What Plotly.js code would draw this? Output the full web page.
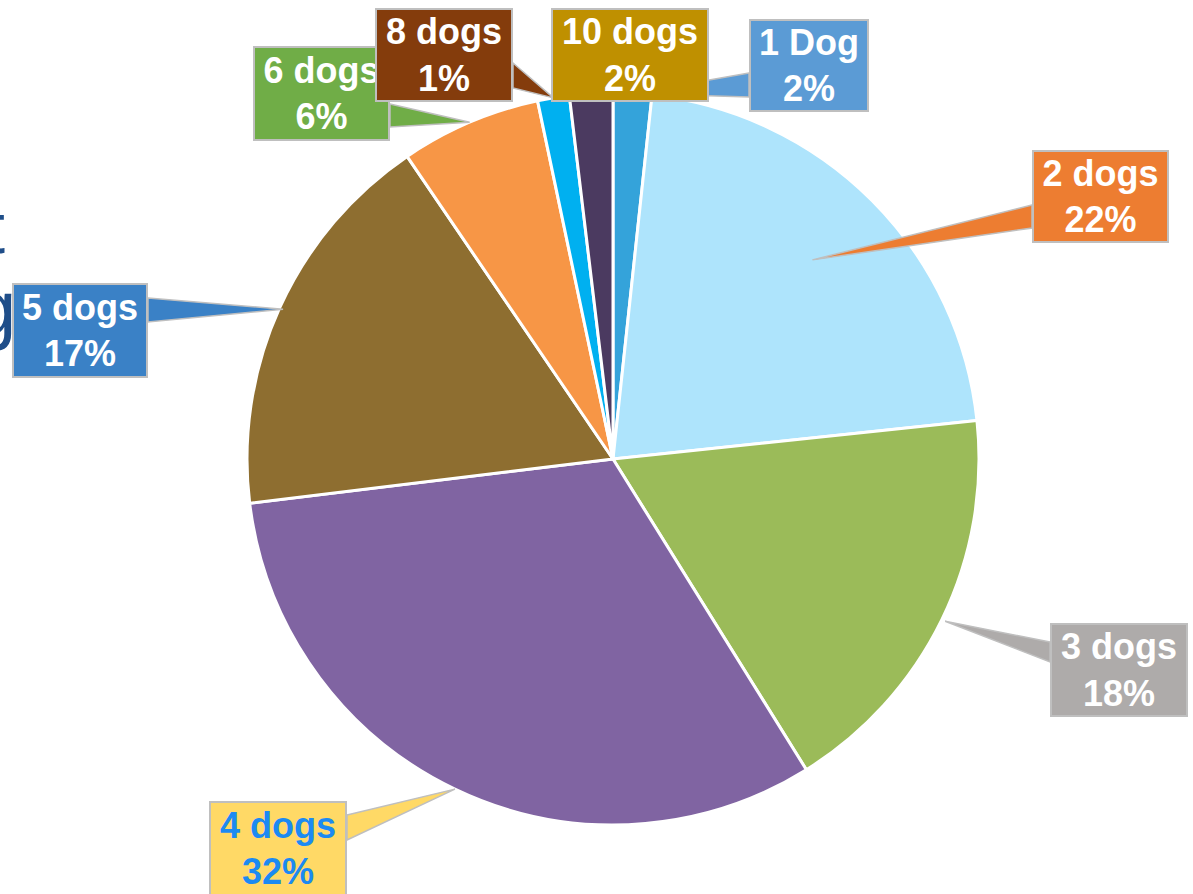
<!DOCTYPE html>
<html>
<head>
<meta charset="utf-8">
<script src="https://cdn.plot.ly/plotly-3.0.1.min.js"></script>
<style>
  html, body { margin: 0; padding: 0; background: #ffffff; }
  #chart { width: 1193px; height: 894px; }
</style>
</head>
<body>
<div id="chart"></div>
<script>
// ---- data ----
const labels = ['1 Dog', '2 dogs', '3 dogs', '4 dogs', '5 dogs', '6 dogs', '8 dogs', '10 dogs'];
const values = [1.7, 21.6, 17.8, 31.9, 17.4, 6.2, 1.4, 1.9];

// ---- styles ----
const sliceColors = ['#34A3DA', '#AEE4FC', '#9BBB59', '#8064A2', '#8E6E30', '#F79646', '#00B0F0', '#4B3A60'];
const boxColors   = ['#5B9BD5', '#ED7D31', '#AEABAA', '#FFD966', '#3A81C6', '#70AD47', '#843C0C', '#BF9000'];
const textColors  = ['#FFFFFF', '#FFFFFF', '#FFFFFF', '#1C8AF2', '#FFFFFF', '#FFFFFF', '#FFFFFF', '#FFFFFF'];

// ---- geometry (pixels) ----
const W = 1193, H = 894;
const cx = 613, cy = 459, R = 366;
// callout boxes [x0,y0,x1,y1], pointer base points, pointer tip radius (fraction of R)
const callouts = [
  { box: [749, 19, 869, 112],  base: [[749, 73], [749, 97]],   r: 1.0 },
  { box: [1032, 150, 1169, 243], base: [[1032, 205], [1032, 228]], r: 0.77 },
  { box: [1050, 623, 1188, 717], base: [[1050, 642], [1050, 662]], r: 1.01 },
  { box: [209, 801, 347, 896], base: [[347, 815], [347, 840]], r: 1.0 },
  { box: [12, 283, 148, 378],  base: [[148, 298], [148, 322]], r: 0.99 },
  { box: [253, 46, 390, 141],  base: [[390, 104], [390, 127]], r: 1.0 },
  { box: [375, 8, 513, 102],   base: [[513, 63], [513, 88]],   r: 1.0 },
  { box: [551, 8, 709, 102],   base: null, r: 1.0 }
];

const px = x => x / W;
const py = y => 1 - y / H;

const total = values.reduce((a, b) => a + b, 0);
let cum = 0;
const shapes = [];
const annotations = [];

callouts.forEach((c, i) => {
  const mid = (cum + values[i] / 2) / total * 2 * Math.PI;
  cum += values[i];
  const tx = cx + c.r * R * Math.sin(mid);
  const ty = cy - c.r * R * Math.cos(mid);
  if (c.base) {
    const [b1, b2] = c.base;
    shapes.push({
      type: 'path', xref: 'paper', yref: 'paper', layer: 'above',
      path: `M ${px(b1[0])},${py(b1[1])} L ${px(tx)},${py(ty)} L ${px(b2[0])},${py(b2[1])} Z`,
      fillcolor: boxColors[i],
      line: { color: '#BFBFBF', width: 1.5 }
    });
  }
});

callouts.forEach((c, i) => {
  const [x0, y0, x1, y1] = c.box;
  const pct = Math.round(values[i] / total * 100) + '%';
  annotations.push({
    xref: 'paper', yref: 'paper',
    x: px((x0 + x1) / 2), y: py((y0 + y1) / 2),
    xanchor: 'center', yanchor: 'middle',
    width: x1 - x0 - 4, height: y1 - y0 - 4,
    borderpad: 0, borderwidth: 2, bordercolor: '#BFBFBF',
    bgcolor: boxColors[i],
    showarrow: false,
    align: 'center', valign: 'middle',
    text: '<b>' + labels[i] + '<br>' + pct + '</b>',
    font: { family: 'Liberation Sans, Arial, sans-serif', size: 36, color: textColors[i] }
  });
});

// cut-off title letters at left edge
annotations.unshift(
  { xref: 'paper', yref: 'paper', x: px(-17), y: py(228), xanchor: 'left', yanchor: 'middle',
    showarrow: false, text: 't', font: { family: 'Liberation Sans, Arial, sans-serif', size: 72, color: '#1F4E89' } },
  { xref: 'paper', yref: 'paper', x: px(-29), y: py(308), xanchor: 'left', yanchor: 'middle',
    showarrow: false, text: 'g', font: { family: 'Liberation Sans, Arial, sans-serif', size: 78, color: '#1F4E89' } }
);

const trace = {
  type: 'pie',
  labels: labels,
  values: values,
  sort: false,
  direction: 'clockwise',
  rotation: 0,
  textinfo: 'none',
  hoverinfo: 'label+percent',
  marker: { colors: sliceColors, line: { color: '#FFFFFF', width: 3 } },
  domain: { x: [(cx - R) / W, (cx + R) / W], y: [1 - (cy + R) / H, 1 - (cy - R) / H] },
  showlegend: false
};

const layout = {
  width: W, height: H,
  margin: { l: 0, r: 0, t: 0, b: 0 },
  paper_bgcolor: '#FFFFFF',
  showlegend: false,
  shapes: shapes,
  annotations: annotations
};

Plotly.newPlot('chart', [trace], layout, { displayModeBar: false, staticPlot: true });
</script>
</body>
</html>
